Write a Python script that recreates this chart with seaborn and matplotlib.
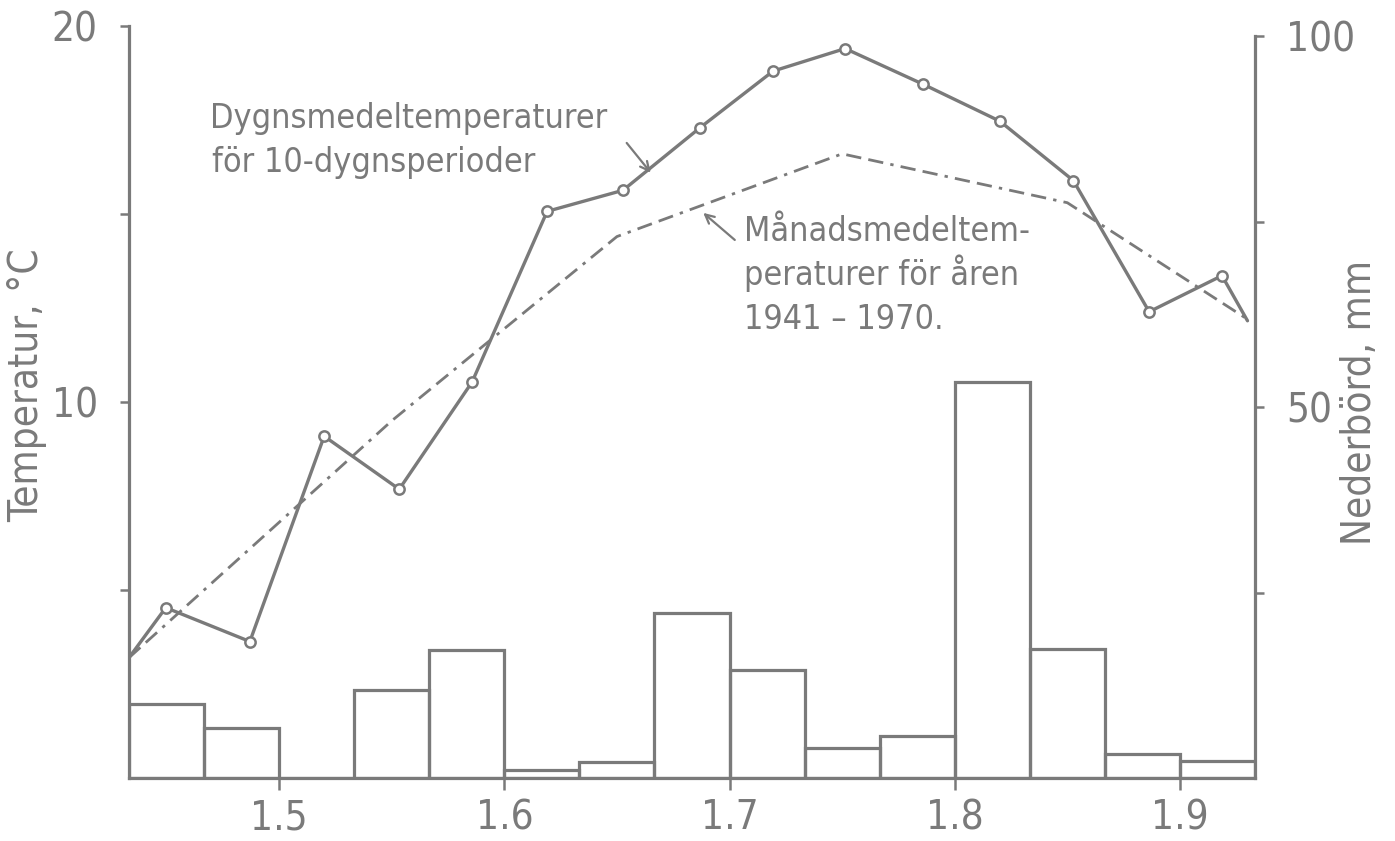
import matplotlib
matplotlib.use("Agg")
import matplotlib.pyplot as plt
import seaborn as sns
import pandas as pd

# ---------------- data ----------------
# x unit = one 10-day period, 0 = left axis (11 April); 1.5 = 1 May etc.
solid_x = [0.0, 0.49, 1.61, 2.60, 3.60, 4.57, 5.57, 6.58, 7.61, 8.58, 9.54,
           10.58, 11.60, 12.58, 13.59, 14.56, 14.90]
solid_temp = [3.2, 4.53, 3.63, 9.09, 7.68, 10.53, 15.07, 15.63, 17.30, 18.80,
              19.40, 18.45, 17.47, 15.89, 12.40, 13.36, 12.16]
marker_from, marker_to = 1, 16          # points drawn with a circle marker

month_x = [0.0, 3.5, 6.5, 9.5, 12.5, 14.9]
month_temp = [3.2, 9.5, 14.4, 16.6, 15.3, 12.2]

period_center = [0.5, 1.5, 2.5, 3.5, 4.5, 5.5, 6.5, 7.5, 8.5, 9.5, 10.5,
                 11.5, 12.5, 13.5, 14.5]
precip_mm = [10.0, 6.8, 0.0, 11.8, 17.3, 1.1, 2.1, 22.3, 14.6, 4.0, 5.7,
             53.4, 17.4, 3.2, 2.3]

xtick_pos = [2, 5, 8, 11, 14]
xtick_labels = ["1.5", "1.6", "1.7", "1.8", "1.9"]
ytick_left = [5, 10, 15, 20]
ytick_left_labels = ["", "10", "", "20"]
ytick_right = [25, 50, 75, 100]
ytick_right_labels = ["", "50", "", "100"]

# ---------------- style ----------------
sns.set_style("white")
plt.rcParams["font.family"] = ["DejaVu Sans"]
plt.rcParams["font.stretch"] = "condensed"
GRAY = "#7a7a7a"
TXT = ["DejaVu Sans"]

W, H = 1395, 841
fig = plt.figure(figsize=(W / 100, H / 100), dpi=100)
left_px, right_px, top_px, base_px = 129, 1255, 26, 778
ax = fig.add_axes([left_px / W, 1 - base_px / H,
                   (right_px - left_px) / W, (base_px - top_px) / H])
ax2 = ax.twinx()

# precipitation bars (right axis)
df_bar = pd.DataFrame({"x": period_center, "mm": precip_mm})
sns.barplot(data=df_bar, x="x", y="mm", native_scale=True, width=1.0,
            fill=False, color=GRAY, linewidth=2.3, errorbar=None,
            saturation=1, ax=ax2)

# temperature lines (left axis)
df_solid = pd.DataFrame({"x": solid_x, "t": solid_temp})
sns.lineplot(data=df_solid, x="x", y="t", sort=False, color=GRAY,
             linewidth=2.4, ax=ax)
df_mark = df_solid.iloc[marker_from:marker_to]
sns.scatterplot(data=df_mark, x="x", y="t", s=55, color="white",
                edgecolor=GRAY, linewidth=1.8, zorder=5, ax=ax)

df_month = pd.DataFrame({"x": month_x, "t": month_temp})
sns.lineplot(data=df_month, x="x", y="t", sort=False, color=GRAY,
             linewidth=2.0, linestyle=(0, (5.5, 2.6, 5.5, 2.6, 1.2, 2.6)),
             ax=ax)

# axes limits
ax.set_xlim(0, 15)
ax.set_ylim(0, 20)
ax2.set_ylim(0, 100 * (base_px - top_px) / (base_px - 36))

ax.set_zorder(ax2.get_zorder() + 1)
ax.patch.set_visible(False)

# spines
for s in ["top", "right"]:
    ax.spines[s].set_visible(False)
for s in ["top", "left", "bottom"]:
    ax2.spines[s].set_visible(False)
ax.spines["left"].set_bounds(0, 20)
ax2.spines["right"].set_bounds(0, 100)
for sp in [ax.spines["left"], ax.spines["bottom"], ax2.spines["right"]]:
    sp.set_color(GRAY)
    sp.set_linewidth(2.3)

# ticks
ax.set_xticks(xtick_pos, xtick_labels)
ax.set_yticks(ytick_left, ytick_left_labels)
ax2.set_yticks(ytick_right, ytick_right_labels)
ax.tick_params(axis="x", direction="out", length=8.5, width=1.8, pad=6,
               labelsize=29, colors=GRAY, bottom=True)
ax.tick_params(axis="y", direction="out", length=6.5, width=1.8, pad=16,
               labelsize=29, colors=GRAY, left=True)
ax2.tick_params(axis="y", direction="out", length=6.5, width=1.8, pad=16,
                labelsize=29, colors=GRAY, right=True)
for lbl in (ax.get_xticklabels() + ax.get_yticklabels()
            + ax2.get_yticklabels()):
    lbl.set_fontstretch("condensed")
ax.set_xlabel("")
ax2.set_xlabel("")

# axis labels
ax.set_ylabel("Temperatur, °C", fontsize=29, color=GRAY, family=TXT,
              fontstretch="condensed")
ax.yaxis.label.set_rotation_mode("anchor")
ax.yaxis.label.set_ha("center")
ax.yaxis.label.set_va("center")
ax.yaxis.set_label_coords((27 - left_px) / (right_px - left_px),
                          (base_px - 385) / (base_px - top_px))
ax2.set_ylabel("Nederbörd, mm", fontsize=29, color=GRAY, family=TXT,
               fontstretch="condensed", rotation=90)
ax2.yaxis.label.set_rotation_mode("anchor")
ax2.yaxis.label.set_ha("center")
ax2.yaxis.label.set_va("center")
ax2.yaxis.set_label_coords((1360 - left_px) / (right_px - left_px),
                           (base_px - 402) / (base_px - top_px))

# annotations
tk = dict(fontsize=24.5, color=GRAY, family=TXT, fontstretch="condensed",
          va="baseline", ha="left")
ax.text(1.08, 17.29, "Dygnsmedeltemperaturer", **tk)
ax.text(1.10, 16.12, "för 10-dygnsperioder", **tk)
ax.text(8.19, 14.28, "Månadsmedeltem-", **tk)
ax.text(8.19, 13.11, "peraturer för åren", **tk)
ax.text(8.19, 11.94, "1941 – 1970.", **tk)
arr = dict(arrowstyle="->", color=GRAY, lw=1.6, shrinkA=0, shrinkB=0,
           mutation_scale=16)
ax.annotate("", xy=(6.95, 16.1), xytext=(6.63, 16.89), arrowprops=arr)
ax.annotate("", xy=(7.65, 15.03), xytext=(8.07, 14.31), arrowprops=arr)

fig.savefig("out.png", dpi=100, facecolor="white")
